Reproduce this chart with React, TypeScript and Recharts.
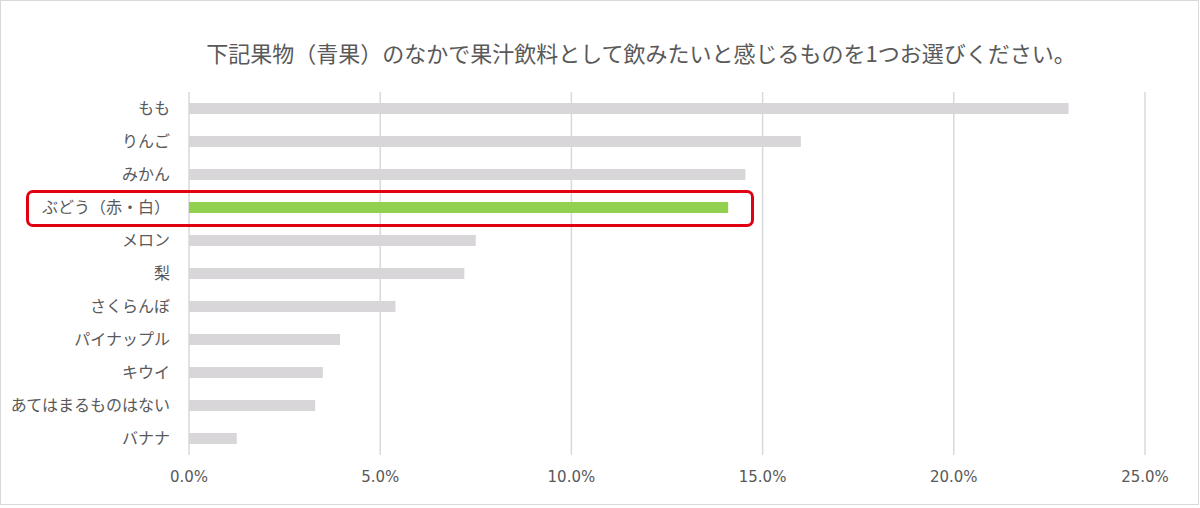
import { BarChart, Bar, XAxis, YAxis, CartesianGrid, Cell } from "recharts";

// 設問と選択肢
const title = "下記果物（青果）のなかで果汁飲料として飲みたいと感じるものを1つお選びください。";
const fruits = [
  "もも",
  "りんご",
  "みかん",
  "ぶどう（赤・白）",
  "メロン",
  "梨",
  "さくらんぼ",
  "パイナップル",
  "キウイ",
  "あてはまるものはない",
  "バナナ",
];
const shares = [23.0, 16.0, 14.55, 14.1, 7.5, 7.2, 5.4, 3.95, 3.5, 3.3, 1.25];
const xTicks = [0, 5, 10, 15, 20, 25];
const highlight = "ぶどう（赤・白）";

const data = fruits.map((name, i) => ({ name, value: shares[i] }));

const GRAY = "#d9d6d9";
const GREEN = "#92d050";
const TEXT = "#595959";

export default function App() {
  return (
    <div style={{ position: "absolute", left: 0, top: 0, width: 1200, height: 508, background: "#fff" }}>
      {/* 外枠 */}
      <div
        style={{
          position: "absolute",
          left: 0,
          top: 0,
          width: 1197,
          height: 503,
          border: "1px solid #d9d9d9",
        }}
      />
      <div
        style={{
          position: "absolute",
          left: 0,
          top: 36,
          width: 1282,
          textAlign: "center",
          fontFamily: "'Noto Sans CJK JP', sans-serif",
          fontSize: 22,
          color: TEXT,
          lineHeight: "32px",
        }}
      >
        {title}
      </div>
      <BarChart
        width={1200}
        height={508}
        data={data}
        layout="vertical"
        margin={{ top: 92, right: 55, bottom: 23, left: 0 }}
        barSize={11}
        style={{ position: "absolute", left: 0, top: 0 }}
      >
        <CartesianGrid horizontal={false} stroke="#d9d9d9" strokeWidth={1.5} />
        <XAxis
          type="number"
          domain={[0, 25]}
          ticks={xTicks}
          tickFormatter={(v: number) => `${v.toFixed(1)}%`}
          axisLine={false}
          tickLine={false}
          tickMargin={10}
          height={30}
          tick={{ fill: TEXT, fontSize: 15, fontFamily: "'DejaVu Sans', sans-serif" }}
        />
        <YAxis
          type="category"
          dataKey="name"
          width={189}
          axisLine={false}
          tickLine={false}
          tickMargin={13}
          interval={0}
          tick={{ fill: TEXT, fontSize: 16, fontFamily: "'Noto Sans CJK JP', sans-serif" }}
        />
        <Bar dataKey="value" isAnimationActive={false}>
          {data.map((d) => (
            <Cell key={d.name} fill={d.name === highlight ? GREEN : GRAY} />
          ))}
        </Bar>
      </BarChart>
      {/* 強調枠 */}
      <div
        style={{
          position: "absolute",
          left: 26,
          top: 190,
          width: 722,
          height: 31,
          border: "3px solid #e0000f",
          borderRadius: 7,
        }}
      />
    </div>
  );
}
